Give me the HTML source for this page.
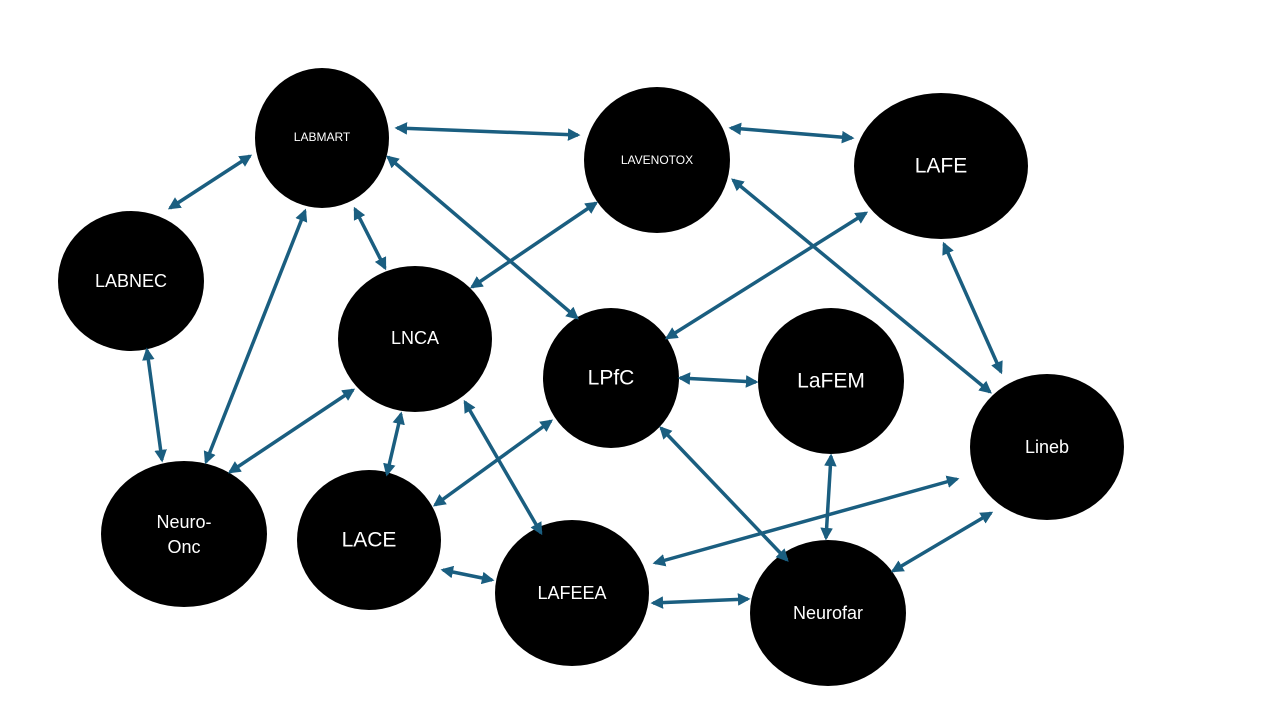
<!DOCTYPE html>
<html><head><meta charset="utf-8"><style>
html,body{margin:0;padding:0;background:#fff;}
svg{display:block;}
text{font-family:"Liberation Sans",sans-serif;fill:#fff;text-anchor:middle;dominant-baseline:middle;}
</style></head><body>
<svg width="1280" height="720" viewBox="0 0 1280 720" xmlns="http://www.w3.org/2000/svg">
<defs>
<marker id="a" viewBox="0 0 10 10" refX="8" refY="5" markerWidth="3.6" markerHeight="3.6" orient="auto-start-reverse">
<path d="M0,0 L10,5 L0,10 z" fill="#1a5e80"/>
</marker>
</defs>
<g fill="#000">
<ellipse cx="322" cy="138" rx="67" ry="70"/>
<ellipse cx="657" cy="160" rx="73" ry="73"/>
<ellipse cx="941" cy="166" rx="87" ry="73"/>
<ellipse cx="131" cy="281" rx="73" ry="70"/>
<ellipse cx="415" cy="339" rx="77" ry="73"/>
<ellipse cx="611" cy="378" rx="68" ry="70"/>
<ellipse cx="831" cy="381" rx="73" ry="73"/>
<ellipse cx="1047" cy="447" rx="77" ry="73"/>
<ellipse cx="184" cy="534" rx="83" ry="73"/>
<ellipse cx="369" cy="540" rx="72" ry="70"/>
<ellipse cx="572" cy="593" rx="77" ry="73"/>
<ellipse cx="828" cy="613" rx="78" ry="73"/>
</g>
<g stroke="#1a5e80" stroke-width="3.5" marker-start="url(#a)" marker-end="url(#a)" fill="none">
<line x1="170" y1="208" x2="250" y2="156"/>
<line x1="397" y1="128" x2="578" y2="135"/>
<line x1="731" y1="128" x2="852" y2="138"/>
<line x1="388" y1="157" x2="577" y2="318"/>
<line x1="355" y1="209" x2="385" y2="268"/>
<line x1="305" y1="211" x2="206" y2="462"/>
<line x1="147" y1="350" x2="162" y2="460"/>
<line x1="230" y1="472" x2="353" y2="390"/>
<line x1="472" y1="287" x2="596" y2="203"/>
<line x1="733" y1="180" x2="990" y2="392"/>
<line x1="866" y1="213" x2="667" y2="338"/>
<line x1="944" y1="244" x2="1001" y2="372"/>
<line x1="680" y1="378" x2="756" y2="382"/>
<line x1="401" y1="414" x2="387" y2="474"/>
<line x1="465" y1="402" x2="541" y2="533"/>
<line x1="551" y1="421" x2="435" y2="505"/>
<line x1="661" y1="428" x2="787" y2="560"/>
<line x1="831" y1="456" x2="826" y2="538"/>
<line x1="655" y1="563" x2="957" y2="479"/>
<line x1="893" y1="571" x2="991" y2="513"/>
<line x1="443" y1="570" x2="492" y2="580"/>
<line x1="653" y1="603" x2="748" y2="599"/>
</g>
<text x="322" y="138" font-size="12">LABMART</text>
<text x="657" y="161" font-size="12">LAVENOTOX</text>
<text x="941" y="167" font-size="21">LAFE</text>
<text x="131" y="282" font-size="18">LABNEC</text>
<text x="415" y="339" font-size="18">LNCA</text>
<text x="611" y="379" font-size="21">LPfC</text>
<text x="831" y="382" font-size="21">LaFEM</text>
<text x="1047" y="448" font-size="18">Lineb</text>
<text x="184" y="523" font-size="18">Neuro-</text>
<text x="184" y="548" font-size="18">Onc</text>
<text x="369" y="541" font-size="21">LACE</text>
<text x="572" y="594" font-size="18">LAFEEA</text>
<text x="828" y="614" font-size="18">Neurofar</text>
</svg>
</body></html>
